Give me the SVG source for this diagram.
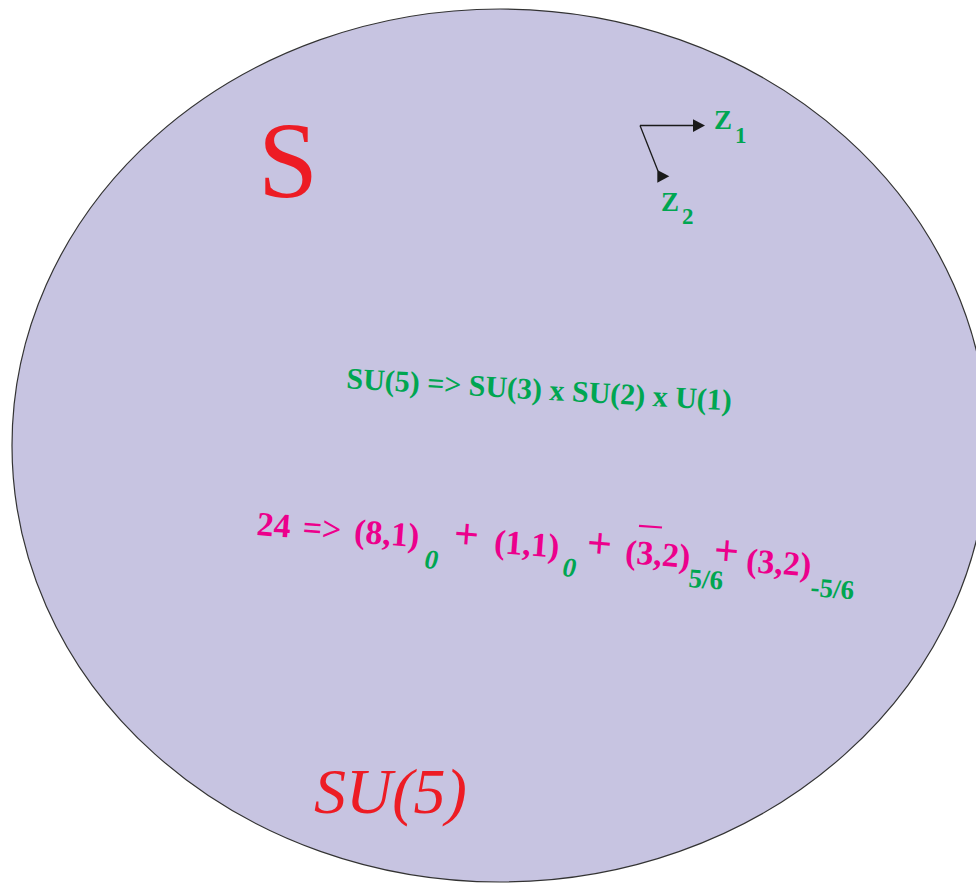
<svg xmlns="http://www.w3.org/2000/svg" width="976" height="883" viewBox="0 0 976 883">
<style>
  .serif { font-family: "Liberation Serif", "Times New Roman", serif; }
  .mag { fill: #EC008C; font-weight: bold; font-size: 34px; }
  .grn { fill: #00A651; font-weight: bold; }
  .sub { font-size: 27px; }
  .plus { font-size: 44px; }
  .red { fill: #ED1C24; }
  .conn { stroke: #1a1a1a; stroke-width: 1.3; fill: none; }
</style>
<defs>
  <path id="ah" d="M0,0 L12,6.3 L0,12.7 Z" fill="#1a1a1a"/>
</defs>
<g id="region">
  <ellipse cx="500" cy="445.5" rx="488" ry="436.5" fill="#C7C4E1" stroke="#333" stroke-width="1.2"/>
</g>
<g id="label-S">
  <text class="serif red" x="258" y="197" font-size="108">S</text>
</g>
<g id="label-SU5">
  <text class="serif red" x="314" y="813" font-size="64" font-style="italic">SU(5)</text>
</g>
<g id="connectors">
  <path class="conn" d="M640,125.5 H694"/>
  <use href="#ah" x="693" y="119.2"/>
  <path class="conn" d="M640,125.5 L658,171"/>
  <use href="#ah" x="657.3" y="170"/>
</g>
<g id="z1">
  <text class="serif grn" x="714" y="128.5" font-size="27">Z</text>
  <text class="serif grn" x="735" y="143" font-size="23">1</text>
</g>
<g id="z2">
  <text class="serif grn" x="661" y="210.5" font-size="27">Z</text>
  <text class="serif grn" x="682" y="224" font-size="23">2</text>
</g>
<g id="breaking">
  <text class="serif grn" x="346" y="388.3" font-size="30" transform="rotate(3.3 346 388.3)">SU(5) =&gt; SU(3) x SU(2) x U(1)</text>
</g>
<g id="decomposition">
  <text class="serif mag" x="256" y="535" transform="rotate(4.29 256 535)">24</text>
  <text class="serif mag" x="302" y="538.4" transform="rotate(4.29 302 538.4)">=&gt;</text>
  <text class="serif mag" x="353.5" y="542.3" transform="rotate(4.29 353.5 542.3)">(8,1)</text>
  <text class="serif grn sub" x="424" y="568" font-style="italic" transform="rotate(4.29 424 568)">0</text>
  <text class="serif mag plus" x="453" y="547.8" transform="rotate(4.29 453 547.8)">+</text>
  <text class="serif mag" x="493.5" y="552.7" transform="rotate(4.29 493.5 552.7)">(1,1)</text>
  <text class="serif grn sub" x="562" y="576" font-style="italic" transform="rotate(4.29 562 576)">0</text>
  <text class="serif mag plus" x="586" y="557" transform="rotate(4.29 586 557)">+</text>
  <text class="serif mag" x="624.5" y="563" transform="rotate(4.29 624.5 563)">(3,2)</text>
  <line x1="639" y1="525.8" x2="662" y2="527.5" stroke="#EC008C" stroke-width="2.2"/>
  <text class="serif grn sub" x="688" y="587" transform="rotate(4.29 688 587)">5/6</text>
  <text class="serif mag plus" x="713" y="564.3" transform="rotate(4.29 713 564.3)">+</text>
  <text class="serif mag" x="745.5" y="571.6" transform="rotate(4.29 745.5 571.6)">(3,2)</text>
  <text class="serif grn sub" x="810" y="596" transform="rotate(4.29 810 596)">-5/6</text>
</g>
</svg>
